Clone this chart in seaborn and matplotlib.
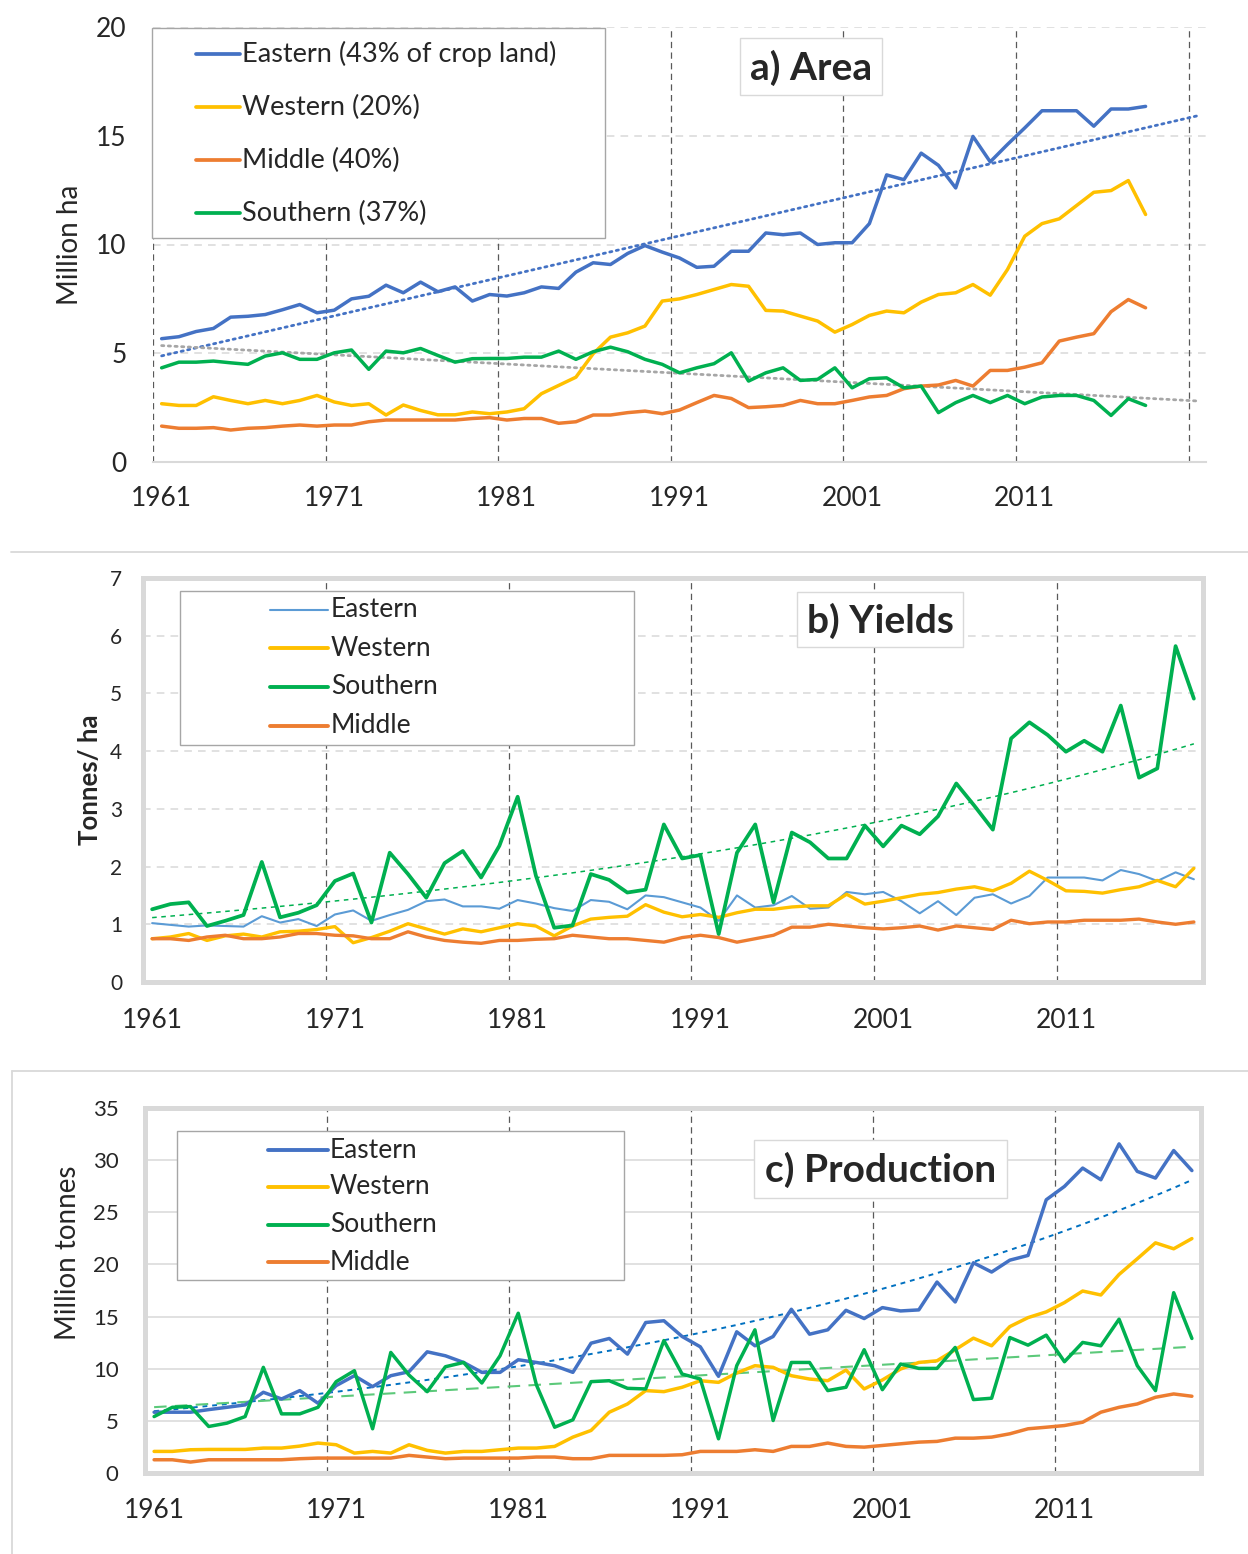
import numpy as np
import matplotlib
matplotlib.use('Agg')
import matplotlib.pyplot as plt
import seaborn as sns
from matplotlib.patches import Rectangle
from matplotlib.lines import Line2D

sns.set_style('white')
plt.rcParams['font.family'] = ['Lato', 'DejaVu Sans']

years = np.arange(1961, 2019)

# a) Area, million ha
east_area = [5.67, 5.76, 6.0, 6.14, 6.66, 6.7, 6.78, 7.0, 7.24, 6.86,
             6.98, 7.5, 7.62, 8.13, 7.78, 8.27, 7.83, 8.05, 7.4, 7.7,
             7.63, 7.78, 8.05, 7.98, 8.73, 9.16, 9.08, 9.59, 9.95, 9.65,
             9.38, 8.95, 9.0, 9.69, 9.69, 10.53, 10.45, 10.53, 10.0, 10.08,
             10.08, 10.96, 13.2, 12.98, 14.2, 13.64, 12.6, 14.97, 13.8, 14.6,
             15.36, 16.15, 16.15, 16.15, 15.44, 16.23, 16.23, 16.35]
west_area = [2.68, 2.6, 2.6, 3.0, 2.83, 2.68, 2.83, 2.68, 2.83, 3.06,
             2.76, 2.6, 2.68, 2.16, 2.62, 2.37, 2.17, 2.17, 2.3, 2.22,
             2.3, 2.45, 3.14, 3.52, 3.9, 4.98, 5.74, 5.94, 6.25, 7.4,
             7.5, 7.7, 7.93, 8.16, 8.08, 6.97, 6.94, 6.71, 6.48, 5.97,
             6.32, 6.74, 6.94, 6.86, 7.35, 7.7, 7.78, 8.16, 7.67, 8.85,
             10.38, 10.96, 11.18, 11.79, 12.4, 12.48, 12.94, 11.38]
mid_area = [1.65, 1.55, 1.55, 1.58, 1.47, 1.55, 1.58, 1.65, 1.7, 1.65,
            1.7, 1.7, 1.85, 1.93, 1.93, 1.93, 1.93, 1.93, 2.0, 2.04,
            1.93, 2.0, 2.0, 1.78, 1.85, 2.16, 2.16, 2.27, 2.34, 2.22,
            2.39, 2.73, 3.06, 2.92, 2.5, 2.54, 2.6, 2.83, 2.68, 2.68,
            2.83, 2.99, 3.06, 3.37, 3.49, 3.54, 3.75, 3.49, 4.21, 4.21,
            4.36, 4.56, 5.56, 5.74, 5.9, 6.91, 7.47, 7.09]
south_area = [4.33, 4.59, 4.59, 4.64, 4.56, 4.49, 4.87, 5.02, 4.72, 4.72,
              5.02, 5.15, 4.26, 5.1, 5.02, 5.22, 4.9, 4.59, 4.75, 4.76,
              4.76, 4.82, 4.82, 5.1, 4.72, 5.07, 5.28, 5.07, 4.72, 4.49,
              4.1, 4.33, 4.52, 5.02, 3.72, 4.1, 4.33, 3.75, 3.8, 4.33,
              3.41, 3.83, 3.87, 3.41, 3.49, 2.27, 2.73, 3.06, 2.73, 3.06,
              2.68, 2.99, 3.06, 3.06, 2.83, 2.14, 2.91, 2.6]

# b) Yields, tonnes/ha
east_yield = [1.02, 0.99, 0.96, 0.98, 0.97, 0.96, 1.14, 1.03, 1.09, 0.97,
              1.17, 1.24, 1.06, 1.16, 1.25, 1.4, 1.43, 1.31, 1.31, 1.27,
              1.42, 1.36, 1.28, 1.23, 1.42, 1.39, 1.26, 1.5, 1.47, 1.38,
              1.29, 1.06, 1.5, 1.29, 1.33, 1.49, 1.27, 1.29, 1.56, 1.52,
              1.56, 1.4, 1.19, 1.4, 1.16, 1.46, 1.52, 1.36, 1.49, 1.81,
              1.81, 1.81, 1.76, 1.94, 1.87, 1.75, 1.9, 1.78]
west_yield = [0.75, 0.78, 0.84, 0.72, 0.8, 0.83, 0.78, 0.87, 0.88, 0.91,
              0.96, 0.68, 0.77, 0.88, 1.01, 0.92, 0.83, 0.92, 0.87, 0.94,
              1.01, 0.97, 0.8, 0.97, 1.09, 1.12, 1.14, 1.34, 1.21, 1.13,
              1.17, 1.12, 1.2, 1.26, 1.26, 1.3, 1.32, 1.32, 1.52, 1.35,
              1.4, 1.46, 1.52, 1.55, 1.61, 1.65, 1.58, 1.71, 1.92, 1.76,
              1.58, 1.57, 1.54, 1.6, 1.65, 1.76, 1.65, 1.97]
south_yield = [1.26, 1.35, 1.38, 0.97, 1.06, 1.16, 2.08, 1.12, 1.2, 1.33,
               1.75, 1.88, 1.03, 2.24, 1.87, 1.46, 2.06, 2.27, 1.81, 2.36,
               3.21, 1.84, 0.94, 0.98, 1.87, 1.77, 1.55, 1.6, 2.73, 2.14,
               2.2, 0.83, 2.24, 2.73, 1.38, 2.59, 2.42, 2.14, 2.14, 2.71,
               2.35, 2.71, 2.56, 2.87, 3.44, 3.05, 2.64, 4.22, 4.5, 4.28,
               3.99, 4.18, 3.99, 4.79, 3.54, 3.7, 5.82, 4.91]
mid_yield = [0.75, 0.75, 0.72, 0.78, 0.81, 0.75, 0.75, 0.78, 0.84, 0.84,
             0.81, 0.8, 0.75, 0.75, 0.87, 0.78, 0.72, 0.69, 0.67, 0.72,
             0.72, 0.74, 0.75, 0.81, 0.78, 0.75, 0.75, 0.72, 0.69, 0.77,
             0.81, 0.77, 0.69, 0.75, 0.81, 0.95, 0.95, 1.0, 0.97, 0.94,
             0.92, 0.94, 0.97, 0.9, 0.97, 0.94, 0.91, 1.07, 1.01, 1.04,
             1.04, 1.07, 1.07, 1.07, 1.09, 1.04, 1.0, 1.04]

# c) Production, million tonnes
east_prod = [5.83, 5.83, 5.83, 6.08, 6.3, 6.53, 7.74, 7.1, 7.9, 6.69,
             8.38, 9.33, 8.28, 9.33, 9.71, 11.62, 11.24, 10.6, 9.65, 9.65,
             10.86, 10.6, 10.29, 9.65, 12.45, 12.9, 11.4, 14.43, 14.6, 13.09,
             12.1, 9.27, 13.54, 12.2, 13.09, 15.7, 13.31, 13.73, 15.6, 14.81,
             15.86, 15.54, 15.64, 18.31, 16.4, 20.16, 19.27, 20.41, 20.86, 26.2,
             27.48, 29.24, 28.12, 31.56, 28.92, 28.28, 30.92, 29.0]
west_prod = [2.07, 2.07, 2.23, 2.26, 2.26, 2.26, 2.39, 2.39, 2.58, 2.87,
             2.71, 1.91, 2.07, 1.91, 2.71, 2.17, 1.91, 2.07, 2.07, 2.23,
             2.39, 2.39, 2.55, 3.44, 4.08, 5.83, 6.62, 7.9, 7.8, 8.22,
             8.85, 8.69, 9.59, 10.29, 10.13, 9.33, 9.01, 8.85, 9.87, 8.06,
             8.92, 9.97, 10.6, 10.76, 11.82, 12.93, 12.2, 14.04, 14.9, 15.45,
             16.34, 17.45, 17.07, 19.04, 20.54, 22.07, 21.5, 22.48]
south_prod = [5.41, 6.3, 6.37, 4.46, 4.78, 5.41, 10.13, 5.67, 5.67, 6.3,
              8.76, 9.81, 4.24, 11.56, 9.39, 7.8, 10.19, 10.6, 8.63, 11.24,
              15.32, 8.44, 4.39, 5.1, 8.76, 8.85, 8.12, 8.06, 12.7, 9.49,
              9.01, 3.28, 10.29, 13.73, 5.03, 10.6, 10.6, 7.9, 8.22, 11.82,
              7.99, 10.45, 10.03, 10.03, 12.04, 7.04, 7.17, 12.99, 12.26, 13.22,
              10.67, 12.52, 12.2, 14.75, 10.29, 7.9, 17.29, 12.9]
mid_prod = [1.27, 1.27, 1.05, 1.27, 1.27, 1.27, 1.27, 1.27, 1.37, 1.43,
            1.43, 1.43, 1.43, 1.43, 1.69, 1.53, 1.37, 1.43, 1.43, 1.43,
            1.43, 1.53, 1.53, 1.37, 1.37, 1.69, 1.69, 1.69, 1.69, 1.75,
            2.07, 2.07, 2.07, 2.23, 2.07, 2.55, 2.55, 2.87, 2.55, 2.48,
            2.64, 2.8, 2.96, 3.03, 3.34, 3.34, 3.44, 3.76, 4.24, 4.39,
            4.55, 4.87, 5.83, 6.3, 6.62, 7.26, 7.58, 7.36]

tick_years = [1961, 1971, 1981, 1991, 2001, 2011]

BLUE = '#4472C4'
LBLUE = '#5B9BD5'
YELLOW = '#FFC000'
ORANGE = '#ED7D31'
GREEN = '#00B050'
LGRAY = '#d9d9d9'
W, H = 1248, 1554


def fx(px):
    return px / W


def fy(py):
    return 1 - py / H


def axes_at(fig, left, top, right, bottom):
    return fig.add_axes([fx(left), fy(bottom), fx(right) - fx(left), (bottom - top) / H])


def fig_line(fig, xs, ys, **kw):
    fig.add_artist(Line2D([fx(x) for x in xs], [fy(y) for y in ys],
                          transform=fig.transFigure, **kw))


def fig_box(fig, left, top, right, bottom, ec, lw=1.0):
    fig.add_artist(Rectangle((fx(left), fy(bottom)), fx(right) - fx(left), (bottom - top) / H,
                             transform=fig.transFigure, facecolor='white',
                             edgecolor=ec, linewidth=lw, zorder=5))


def legend_box(fig, box, hx0, hx1, tx, rows, entries, size):
    fig_box(fig, *box, ec='#a6a6a6', lw=1.0)
    for (label, color, lw), ry in zip(entries, rows):
        fig_line(fig, [hx0, hx1], [ry, ry], color=color, lw=lw,
                 solid_capstyle='round', zorder=6)
        fig.text(fx(tx), fy(ry), label, fontsize=size, color='#262626',
                 va='center', ha='left', zorder=6)


def title_box(fig, box, text, size):
    fig_box(fig, *box, ec=LGRAY, lw=1.0)
    left, top, right, bottom = box
    fig.text(fx((left + right) / 2), fy((top + bottom) / 2 + 1), text, fontsize=size,
             fontweight='bold', ha='center', va='center', zorder=6)


def style_axis(ax, xlim, ylim, yticks, vlines, hstyle, boxed, xsize, ysize, xpad, ypad):
    ax.set_xlim(*xlim)
    ax.set_ylim(*ylim)
    ax.set_xticks(tick_years)
    ax.set_yticks(yticks)
    ax.tick_params(axis='x', length=0, labelsize=xsize, pad=xpad, colors='#262626')
    ax.tick_params(axis='y', length=0, labelsize=ysize, pad=ypad, colors='#262626')
    for v in vlines:
        ax.axvline(v, color='#595959', lw=0.9, ls=(0, (5, 3.5)), zorder=1)
    for t in yticks[1:]:
        if boxed and t == ylim[1]:
            continue
        ax.axhline(t, color=LGRAY, lw=1.1, ls=hstyle, zorder=0.5)
    if boxed:
        for s in ax.spines.values():
            s.set_visible(True)
            s.set_color(LGRAY)
            s.set_linewidth(3.6)
    else:
        for s in ['top', 'left', 'right']:
            ax.spines[s].set_visible(False)
        ax.spines['bottom'].set_color(LGRAY)
        ax.spines['bottom'].set_linewidth(1.5)


fig = plt.figure(figsize=(12.48, 15.54), dpi=100)

# separators between the three pasted panels
fig_line(fig, [11, 1248], [552, 552], color=LGRAY, lw=1.3)
fig_line(fig, [12, 1248], [1071, 1071], color=LGRAY, lw=1.3)
fig_line(fig, [12, 12], [1071, 1554], color=LGRAY, lw=1.3)

# ---------- a) Area ----------
ax1 = axes_at(fig, 153, 27, 1206, 462)
style_axis(ax1, (1960.5, 2021.5), (0, 20), [0, 5, 10, 15, 20],
           np.arange(1960.5, 2021, 10), (0, (5, 4)), False, 19, 19, 17, 19)
trend_years = np.arange(1961, 2022)
fit_e = np.polyfit(years, east_area, 1)
fit_s = np.polyfit(years, south_area, 1)
ax1.plot(trend_years, np.polyval(fit_e, trend_years), color=BLUE, lw=2.0,
         ls=(0, (0.8, 1.6)), dash_capstyle='round', zorder=2)
ax1.plot(trend_years, np.polyval(fit_s, trend_years), color='#a6a6a6', lw=2.0,
         ls=(0, (0.8, 1.6)), dash_capstyle='round', zorder=2)
for vals, col in [(east_area, BLUE), (west_area, YELLOW), (mid_area, ORANGE), (south_area, GREEN)]:
    sns.lineplot(x=years, y=vals, ax=ax1, color=col, linewidth=2.5, zorder=3)
ax1.set_ylabel('Million ha', fontsize=20, color='#262626')
ax1.yaxis.set_label_coords((83 - 153) / (1206 - 153), 0.5)

legend_box(fig, (152, 28, 605, 238), 196, 240, 242, [54, 107, 160, 213],
           [('Eastern (43% of crop land)', BLUE, 2.7),
            ('Western (20%)', YELLOW, 2.7),
            ('Middle (40%)', ORANGE, 2.7),
            ('Southern (37%)', GREEN, 2.7)], 19.5)
title_box(fig, (740, 38, 882, 95), 'a) Area', 28)

# ---------- b) Yields ----------
ax2 = axes_at(fig, 143, 578, 1203, 982)
style_axis(ax2, (1960.5, 2018.5), (0, 7), [0, 1, 2, 3, 4, 5, 6, 7],
           np.arange(1970.5, 2011, 10), (0, (5, 4)), True, 19, 15, 19, 15)
fit_y = np.polyfit(years, np.log(south_yield), 1)
ax2.plot(years, np.exp(np.polyval(fit_y, years)), color=GREEN, lw=1.1,
         ls=(0, (3, 3)), zorder=2)
for vals, col, lw in [(east_yield, LBLUE, 1.5), (west_yield, YELLOW, 2.4),
                      (south_yield, GREEN, 2.7), (mid_yield, ORANGE, 2.4)]:
    sns.lineplot(x=years, y=vals, ax=ax2, color=col, linewidth=lw, zorder=3)
ax2.set_ylabel('Tonnes/ ha', fontsize=18.5, fontweight='bold', color='#262626')
ax2.yaxis.set_label_coords((102 - 143) / (1203 - 143), 0.5)

legend_box(fig, (180, 591, 634, 745), 270, 328, 331, [610, 648, 687, 726],
           [('Eastern', LBLUE, 1.5), ('Western', YELLOW, 2.8),
            ('Southern', GREEN, 2.8), ('Middle', ORANGE, 2.8)], 19)
title_box(fig, (797, 592, 963, 647), 'b) Yields', 28)

# ---------- c) Production ----------
ax3 = axes_at(fig, 145, 1108, 1201, 1473)
style_axis(ax3, (1960.5, 2018.5), (0, 35), [0, 5, 10, 15, 20, 25, 30, 35],
           np.arange(1970.5, 2011, 10), '-', True, 19, 16, 18, 19)
fit_p = np.polyfit(years, np.log(east_prod), 1)
fit_sp = np.polyfit(years, south_prod, 1)
ax3.plot(years, np.exp(np.polyval(fit_p, years)), color='#0070C0', lw=1.4,
         ls=(0, (2.5, 2.5)), zorder=2)
ax3.plot(years, np.polyval(fit_sp, years), color='#5cc97a', lw=1.5,
         ls=(0, (6, 4)), zorder=2)
for vals, col in [(east_prod, BLUE), (west_prod, YELLOW), (south_prod, GREEN), (mid_prod, ORANGE)]:
    sns.lineplot(x=years, y=vals, ax=ax3, color=col, linewidth=2.5, zorder=3)
ax3.set_ylabel('Million tonnes', fontsize=20, color='#262626')
ax3.yaxis.set_label_coords((81 - 145) / (1201 - 145), (1473 - 1253) / (1473 - 1108))

legend_box(fig, (177, 1131, 624, 1280), 268, 328, 330, [1150, 1187, 1225, 1262],
           [('Eastern', BLUE, 2.8), ('Western', YELLOW, 2.8),
            ('Southern', GREEN, 2.8), ('Middle', ORANGE, 2.8)], 19)
title_box(fig, (754, 1140, 1007, 1198), 'c) Production', 28)

fig.savefig('out.png', dpi=100)
